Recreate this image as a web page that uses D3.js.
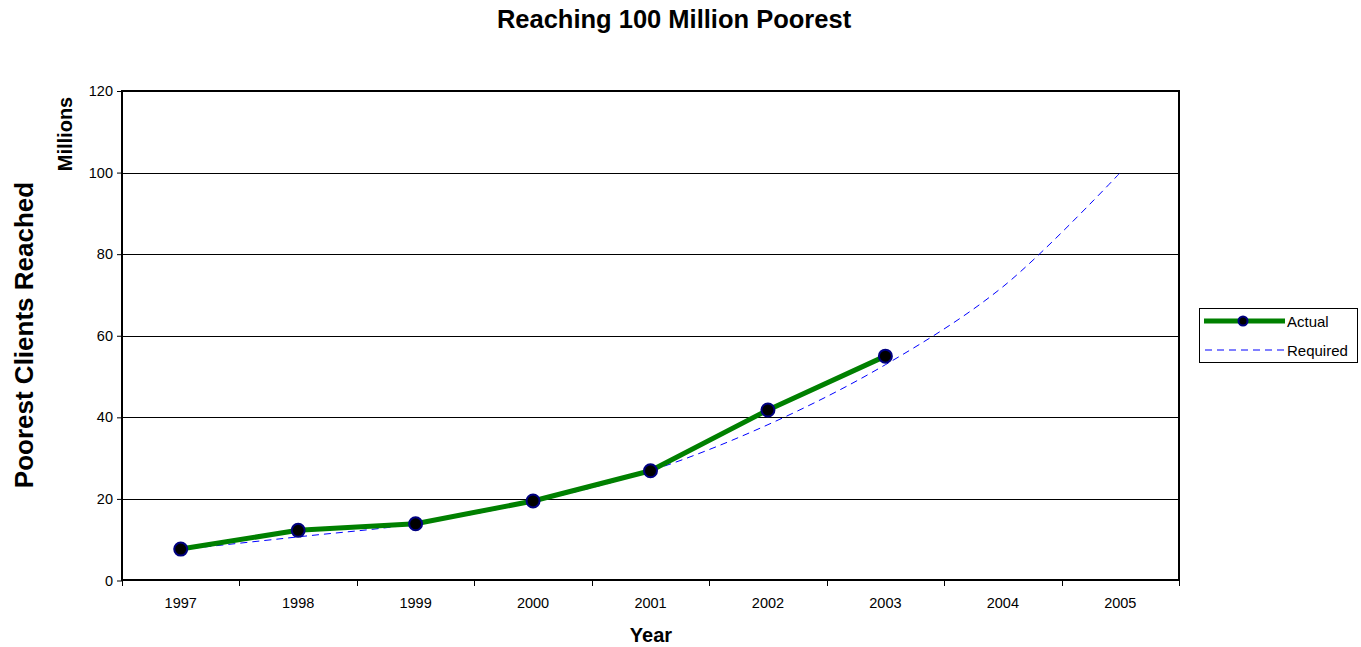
<!DOCTYPE html>
<html>
<head>
<meta charset="utf-8">
<script src="https://cdn.jsdelivr.net/npm/d3@7"></script>
<style>
  body { margin: 0; background: #fff; }
  svg { font-family: "Liberation Sans", Arial, sans-serif; }
</style>
</head>
<body>
<div id="chart"></div>
<script>
var years = ['1997', '1998', '1999', '2000', '2001', '2002', '2003', '2004', '2005'];
var actualYears = ['1997', '1998', '1999', '2000', '2001', '2002', '2003'];
var actualValues = [7.7, 12.3, 13.9, 19.5, 26.9, 41.8, 55.0];
var requiredValues = [7.6, 10.7, 13.9, 19.3, 26.9, 38.2, 52.9, 72.0, 100];
var yTicks = [0, 20, 40, 60, 80, 100, 120];

var width = 1361, height = 647;
var margin = {top: 91, right: 182, bottom: 67, left: 122};

var svg = d3.select('#chart')
    .append('svg')
    .attr('width', width)
    .attr('height', height);

var x = d3.scaleBand()
    .domain(years)
    .range([margin.left, width - margin.right]);

var y = d3.scaleLinear()
    .domain([0, 120])
    .range([height - margin.bottom + 0.5, margin.top]);

// gridlines
svg.append('g')
    .selectAll('line')
    .data(yTicks.slice(1, -1))
    .enter().append('line')
    .attr('x1', margin.left)
    .attr('x2', width - margin.right)
    .attr('y1', function(d) { return Math.round(y(d)) + 0.5; })
    .attr('y2', function(d) { return Math.round(y(d)) + 0.5; })
    .attr('stroke', '#000')
    .attr('stroke-width', 1);

// y axis
var yAxis = svg.append('g')
    .attr('transform', 'translate(' + margin.left + ',0)')
    .call(d3.axisLeft(y).tickValues(yTicks).tickSize(5).tickPadding(4));
yAxis.select('.domain').remove();
yAxis.selectAll('text').style('font-size', '14.5px').attr('fill', '#000');

// x axis with ticks at category boundaries
var xAxis = svg.append('g')
    .attr('transform', 'translate(0,' + (height - margin.bottom) + ')')
    .call(d3.axisBottom(x).tickSize(0).tickPadding(18));
xAxis.select('.domain').remove();
xAxis.selectAll('text').style('font-size', '14.5px').attr('fill', '#000');

svg.append('g')
    .selectAll('line')
    .data(years.concat(['end']))
    .enter().append('line')
    .attr('x1', function(d, i) { return Math.round(margin.left + i * x.bandwidth()) + 0.5; })
    .attr('x2', function(d, i) { return Math.round(margin.left + i * x.bandwidth()) + 0.5; })
    .attr('y1', height - margin.bottom)
    .attr('y2', height - margin.bottom + 6)
    .attr('stroke', '#000');

// plot frame
svg.append('rect')
    .attr('x', margin.left)
    .attr('y', margin.top)
    .attr('width', width - margin.left - margin.right)
    .attr('height', height - margin.top - margin.bottom)
    .attr('fill', 'none')
    .attr('stroke', '#000')
    .attr('stroke-width', 2);

var cx = function(d) { return x(d) + x.bandwidth() / 2; };

// required line
var reqLine = d3.line()
    .x(function(d, i) { return cx(years[i]); })
    .y(function(d) { return y(d); })
    .curve(d3.curveCatmullRom.alpha(0.5));

svg.append('path')
    .datum(requiredValues)
    .attr('d', reqLine)
    .attr('fill', 'none')
    .attr('stroke', '#0000ff')
    .attr('stroke-width', 1)
    .attr('stroke-dasharray', '7,5');

// actual line
var actLine = d3.line()
    .x(function(d, i) { return cx(actualYears[i]); })
    .y(function(d) { return y(d); });

svg.append('path')
    .datum(actualValues)
    .attr('d', actLine)
    .attr('fill', 'none')
    .attr('stroke', '#008000')
    .attr('stroke-width', 5)
    .attr('stroke-linejoin', 'round');

svg.append('g')
    .selectAll('circle')
    .data(actualValues)
    .enter().append('circle')
    .attr('cx', function(d, i) { return cx(actualYears[i]); })
    .attr('cy', function(d) { return y(d); })
    .attr('r', 6.5)
    .attr('fill', '#000')
    .attr('stroke', '#000080')
    .attr('stroke-width', 2);

// titles
svg.append('text')
    .attr('x', 674)
    .attr('y', 28)
    .attr('text-anchor', 'middle')
    .style('font-size', '25.5px')
    .style('font-weight', 'bold')
    .text('Reaching 100 Million Poorest');

svg.append('text')
    .attr('x', 651)
    .attr('y', 642)
    .attr('text-anchor', 'middle')
    .style('font-size', '20px')
    .style('font-weight', 'bold')
    .text('Year');

svg.append('text')
    .attr('transform', 'translate(33,335) rotate(-90)')
    .attr('text-anchor', 'middle')
    .style('font-size', '26px')
    .style('font-weight', 'bold')
    .text('Poorest Clients Reached');

svg.append('text')
    .attr('transform', 'translate(72,134) rotate(-90)')
    .attr('text-anchor', 'middle')
    .style('font-size', '20px')
    .style('font-weight', 'bold')
    .text('Millions');

// legend
var lg = svg.append('g').attr('transform', 'translate(1199,308)');
lg.append('rect')
    .attr('x', 0.5).attr('y', 0.5)
    .attr('width', 158).attr('height', 54)
    .attr('fill', '#fff')
    .attr('stroke', '#000');
lg.append('line')
    .attr('x1', 5).attr('x2', 86).attr('y1', 13).attr('y2', 13)
    .attr('stroke', '#008000').attr('stroke-width', 5);
lg.append('circle')
    .attr('cx', 44).attr('cy', 13).attr('r', 4.5)
    .attr('fill', '#000').attr('stroke', '#000080').attr('stroke-width', 2);
lg.append('text')
    .attr('x', 88).attr('y', 19)
    .style('font-size', '15px')
    .text('Actual');
lg.append('line')
    .attr('x1', 6).attr('x2', 86).attr('y1', 42).attr('y2', 42)
    .attr('stroke', '#0000ff').attr('stroke-width', 1)
    .attr('stroke-dasharray', '7,5');
lg.append('text')
    .attr('x', 88).attr('y', 48)
    .style('font-size', '15px')
    .text('Required');
</script>
</body>
</html>
